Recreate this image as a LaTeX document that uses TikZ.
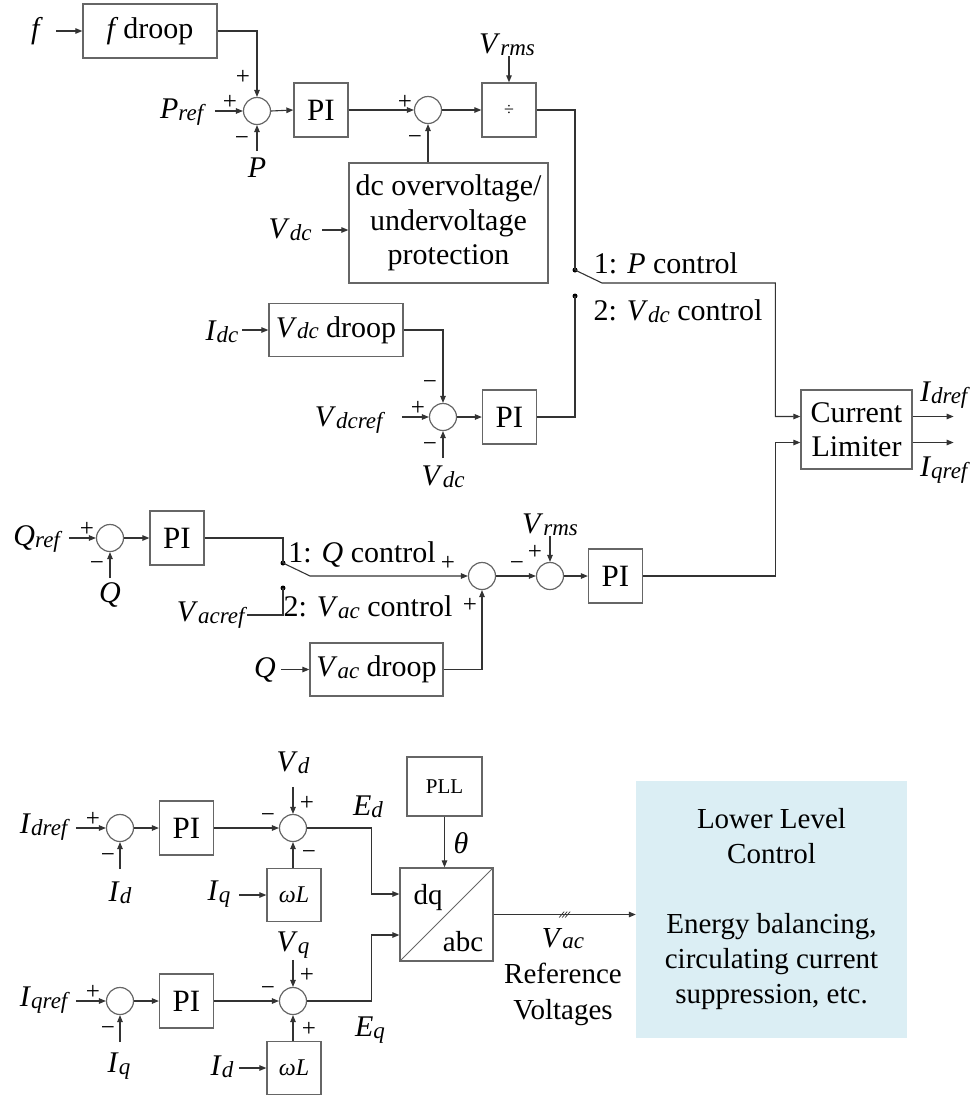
\documentclass[tikz,border=0pt]{standalone}
\usepackage{fontspec}
\setmainfont{Liberation Serif}
\usetikzlibrary{arrows.meta,calc}

\definecolor{llcblue}{RGB}{219,238,244}
\newcommand{\vsig}[2]{\textit{#1}\raisebox{-1.5pt}{\fontsize{23}{23}\selectfont\textit{#2}}}

\begin{document}
\begin{tikzpicture}[
    x=1pt, y=-1pt,
    font=\fontsize{30}{34.5}\selectfont,
    blk/.style  ={draw=black!60, line width=1.3pt, inner sep=0pt, align=center},
    pib/.style  ={blk, minimum width=54pt, minimum height=54pt, font=\fontsize{31}{34}\selectfont},
    wlb/.style  ={blk, minimum width=54pt, minimum height=53pt, font=\fontsize{24}{24}\selectfont},
    sumc/.style ={circle, draw=black!60, line width=1.2pt, minimum size=27pt, inner sep=0pt},
    lab/.style  ={inner sep=0pt},
    sgn/.style  ={inner sep=0pt, font=\fontsize{25}{25}\selectfont},
    swd/.style  ={circle, fill=black, inner sep=0pt, minimum size=5pt},
    fl/.style   ={-{Triangle[length=7pt,width=5.5pt]}, draw=black!80, line width=1.1pt},
    ln/.style   ={draw=black!80, line width=1.1pt}
  ]
  \useasboundingbox (0,0) rectangle (980,1096);

  % --- P control branch ----------------------------------------------------
  \node[lab] (f) at (37,31) {\textit{f}};
  \node[blk, minimum width=134pt, minimum height=54pt] (fdr) at (150,31) {\textit{f}\,droop};
  \node[sumc] (s1) at (257,111) {};
  \node[lab] (pref) at (183,112) {\vsig{P}{ref}};
  \node[lab] (p) at (257,168) {\textit{P}};
  \node[pib] (pi1) at (321,110) {PI};
  \node[sumc] (s2) at (428,110) {};
  \node[blk, minimum width=54pt, minimum height=54pt, font=\fontsize{18}{18}\selectfont] (dv) at (509,110) {÷};
  \node[lab] (vrms1) at (507,45) {\vsig{V}{rms}};
  \node[blk, minimum width=199pt, minimum height=120pt] (dcp) at (448.5,223)
    {dc overvoltage/\\undervoltage\\protection};
  \node[lab] (vdc1) at (290,230) {\vsig{V}{dc}};

  \draw[fl] ([xshift=-26pt]fdr.west) -- (fdr.west);
  \draw[fl] (fdr.east) -| (s1.north);
  \draw[fl] ([xshift=-28pt]s1.west) -- (s1.west);
  \draw[fl] ([yshift=-26pt]s1.south) -- (s1.south);
  \draw[fl] (s1.east) -- (pi1.west);
  \draw[fl] (pi1.east) -- (s2.west);
  \draw[fl] (s2.east) -- (dv.west);
  \draw[fl] ([yshift=26pt]dv.north) -- (dv.north);
  \draw[fl] (dcp.north -| s2.south) -- (s2.south);
  \draw[fl] ([shift={(-26,7)}]dcp.west) -- ([shift={(0,7)}]dcp.west);

  % --- Vdc control branch --------------------------------------------------
  \node[lab] (idc) at (222,332) {\vsig{I}{dc}};
  \node[blk, minimum width=134pt, minimum height=53pt] (vdr) at (336,330) {\vsig{V}{dc} droop};
  \node[sumc] (s3) at (443,417) {};
  \node[lab] (vdcref) at (350,420) {\vsig{V}{dcref}};
  \node[lab] (vdc2) at (443,477) {\vsig{V}{dc}};
  \node[pib] (pi2) at (509.5,417) {PI};

  \draw[fl] ([xshift=-26pt]vdr.west) -- (vdr.west);
  \draw[fl] (vdr.east) -| (s3.north);
  \draw[fl] ([xshift=-27pt]s3.west) -- (s3.west);
  \draw[fl] ([yshift=-27pt]s3.south) -- (s3.south);
  \draw[fl] (s3.east) -- (pi2.west);

  % --- switch and current limiter ------------------------------------------
  \node[swd] (d1) at (575,270) {};
  \node[swd] (d2) at (575,296) {};
  \coordinate (bl1) at (602,283);
  \node[lab] (t1) at (666,263) {1: \textit{P} control};
  \node[lab] (t2) at (678,311) {2: \vsig{V}{dc} control};
  \node[blk, minimum width=111pt, minimum height=79pt] (cl) at (856.5,429.5) {Current\\Limiter};
  \coordinate (cli1) at ([yshift=13pt]cl.west);
  \coordinate (cli2) at ([yshift=-13pt]cl.west);
  \coordinate (clo1) at ([yshift=13pt]cl.east);
  \coordinate (clo2) at ([yshift=-13pt]cl.east);
  \node[lab] (idref1) at (945,395) {\vsig{I}{dref}};
  \node[lab] (iqref1) at (945,470) {\vsig{I}{qref}};

  \draw[ln] (dv.east) -| (d1.center);
  \draw[ln] (pi2.east) -| (d2.center);
  \draw[fl] (d1.center) -- (bl1) -| ([xshift=-25pt]cli1) -- (cli1);
  \draw[fl] (clo1) -- ([xshift=41pt]clo1);
  \draw[fl] (clo2) -- ([xshift=41pt]clo2);

  % --- Q / Vac control branch ----------------------------------------------
  \node[lab] (qref) at (38,539) {\vsig{Q}{ref}};
  \node[sumc] (s4) at (110,538) {};
  \node[lab] (q1) at (110,595) {\textit{Q}};
  \node[pib] (pi3) at (177,538) {PI};
  \node[swd] (d3) at (283,563) {};
  \node[swd] (d4) at (283,588) {};
  \coordinate (bl2) at (310,576);
  \node[lab] (t3) at (362,555) {1: \textit{Q} control};
  \node[lab] (t4) at (368,607) {2: \vsig{V}{ac} control};
  \node[lab] (vacref) at (212,615) {\vsig{V}{acref}};
  \node[lab] (q2) at (265,670) {\textit{Q}};
  \node[blk, minimum width=133pt, minimum height=53pt] (vacdr) at (376.5,669.5) {\vsig{V}{ac} droop};
  \node[sumc] (sq) at (482,576) {};
  \node[sumc] (s5) at (550,576) {};
  \node[lab] (vrms2) at (550,525) {\vsig{V}{rms}};
  \node[pib] (pi4) at (615.5,576) {PI};

  \draw[fl] ([xshift=-27pt]s4.west) -- (s4.west);
  \draw[fl] ([yshift=-26pt]s4.south) -- (s4.south);
  \draw[fl] (s4.east) -- (pi3.west);
  \draw[ln] (pi3.east) -| (d3.center);
  \draw[fl] (d3.center) -- (bl2) -- (sq.west);
  \draw[ln] (d4.center) |- (vacref.east);
  \draw[fl] ([xshift=-28pt]vacdr.west) -- (vacdr.west);
  \draw[fl] (vacdr.east) -| (sq.south);
  \draw[fl] (sq.east) -- (s5.west);
  \draw[fl] ([yshift=26pt]s5.north) -- (s5.north);
  \draw[fl] (s5.east) -- (pi4.west);
  \draw[fl] (pi4.east) -| ([xshift=-25pt]cli2) -- (cli2);

  % --- inner current loops -------------------------------------------------
  \node[lab] (idref2) at (45,827) {\vsig{I}{dref}};
  \node[sumc] (s6) at (120,828) {};
  \node[lab] (id1) at (120,893) {\vsig{I}{d}};
  \node[pib] (pi5) at (186.5,828) {PI};
  \node[sumc] (s7) at (293,828) {};
  \node[lab] (vd) at (293,763) {\vsig{V}{d}};
  \node[wlb] (wl1) at (294,895) {\textit{ωL}};
  \node[lab] (iq1) at (219,894) {\vsig{I}{q}};
  \node[lab] (ed) at (368,807) {\vsig{E}{d}};

  \node[lab] (iqref2) at (45,1000) {\vsig{I}{qref}};
  \node[sumc] (s8) at (120,1001) {};
  \node[lab] (iq2) at (119,1066) {\vsig{I}{q}};
  \node[pib] (pi6) at (186.5,1001) {PI};
  \node[sumc] (s9) at (293,1001) {};
  \node[lab] (vq) at (293,945) {\vsig{V}{q}};
  \node[wlb] (wl2) at (294,1068) {\textit{ωL}};
  \node[lab] (id2) at (222,1067) {\vsig{I}{d}};
  \node[lab] (eq) at (370,1030) {\vsig{E}{q}};

  \foreach \s/\p/\w in {s6/pi5/wl1, s8/pi6/wl2} {
    \draw[fl] ([xshift=-30pt]\s.west) -- (\s.west);
    \draw[fl] ([yshift=-27pt]\s.south) -- (\s.south);
    \draw[fl] (\s.east) -- (\p.west);
    \draw[fl] ([xshift=-27pt]\w.west) -- (\w.west);
  }
  \draw[fl] (pi5.east) -- (s7.west);
  \draw[fl] (pi6.east) -- (s9.west);
  \draw[fl] ([yshift=27pt]s7.north) -- (s7.north);
  \draw[fl] ([yshift=27pt]s9.north) -- (s9.north);
  \draw[fl] (s7.south |- wl1.north) -- (s7.south);
  \draw[fl] (s9.south |- wl2.north) -- (s9.south);

  % --- dq/abc, PLL and lower level -----------------------------------------
  \node[blk, minimum width=93pt, minimum height=93pt] (dq) at (446.5,914.5) {};
  \draw[draw=black!60, line width=0.9pt] (dq.south west) -- (dq.north east);
  \node[lab, font=\fontsize{29}{29}\selectfont] (dqt) at (428,898) {dq};
  \node[lab, font=\fontsize{29}{29}\selectfont] (abct) at (463,942) {abc};
  \node[blk, minimum width=75pt, minimum height=59pt, font=\fontsize{21}{21}\selectfont] (pll) at (444.5,786.5) {PLL};
  \node[lab] (th) at (461,843) {\textit{θ}};
  \coordinate (dqi1) at ([yshift=20.5pt]dq.west);
  \coordinate (dqi2) at ([yshift=-20.5pt]dq.west);

  \draw[fl] (s7.east) -| ([xshift=-28pt]dqi1) -- (dqi1);
  \draw[fl] (s9.east) -| ([xshift=-28pt]dqi2) -- (dqi2);
  \draw[fl] (pll.south) -- (pll.south |- dq.north);

  \node[fill=llcblue, minimum width=271pt, minimum height=257pt, align=center,
        font=\fontsize{29}{35}\selectfont] (llc) at (771.5,909.5)
    {Lower Level\\Control\\[35pt]Energy balancing,\\circulating current\\suppression, etc.};
  \draw[fl] (dq.east) -- (dq.east -| llc.west);
  \coordinate (tk) at ($(dq.east)!0.5!(dq.east -| llc.west)$);
  \foreach \d in {-3,0,3} \draw[ln, line width=0.7pt] ([xshift=\d pt]tk) ++(-2.5,3) -- ++(5,-6);
  \node[lab, align=center, font=\fontsize{29}{36}\selectfont] (vref) at (563,977)
    {\vsig{V}{ac}\\Reference\\Voltages};

  % --- summing signs --------------------------------------------------------
  \foreach \n/\x/\y/\t in {g1/243/77/+, g2/230/102/+, g3/242/141/−, g4/405/102/+, g5/415/140/−,
                           g6/430/385/−, g7/418/408/+, g8/430/447/−,
                           g9/87/529/+, g10/97/566/−, g11/448/563/+, g12/470/605/+,
                           g13/517/566/−, g14/535/552/+,
                           g15/93/819/+, g16/108/858/−, g17/268/818/−, g18/307/803/+, g19/309/855/−,
                           g20/93/992/+, g21/108/1031/−, g22/268/991/−, g23/307/975/+, g24/309/1029/+}
    \node[sgn] (\n) at (\x,\y) {\t};

\end{tikzpicture}
\end{document}
